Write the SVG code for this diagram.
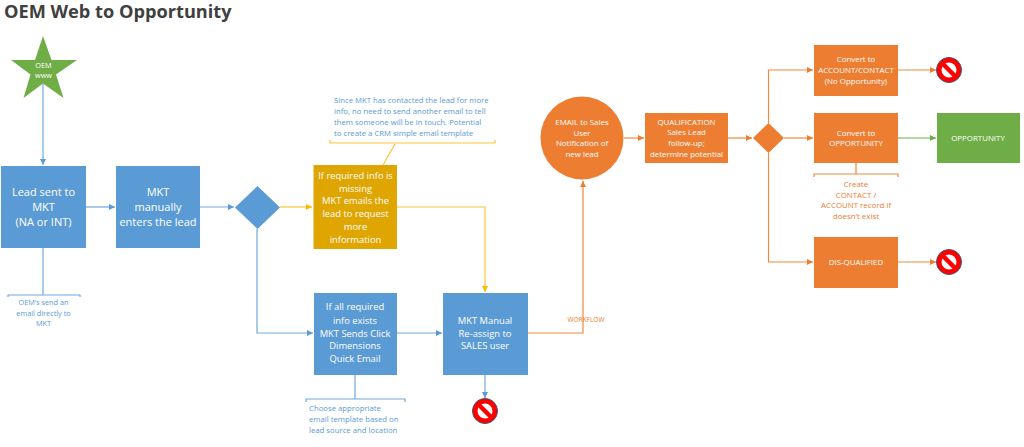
<svg xmlns="http://www.w3.org/2000/svg" width="1024" height="447" viewBox="0 0 1024 447">
<style>
text{font-family:"Open Sans","Liberation Sans",sans-serif;text-anchor:middle}
.t{fill:#fff}
.s13{font-size:11px}.s10{font-size:9.4px}.s8{font-size:7.3px}.s7{font-size:7.75px}.s9{font-size:7.9px}
.st{text-anchor:start}
.l{fill:none;stroke-width:1.2}
.bl{stroke:#6fa8e0}.or{stroke:#f0893f}.ye{stroke:#fcc63a}.gr{stroke:#70ad47}
.blue{fill:#5b9bd5}.orange{fill:#ed7d31}.gold{fill:#dfa500}.green{fill:#6fad47}
</style>
<defs>
<marker id="ab" markerWidth="7" markerHeight="6" refX="6" refY="3" orient="auto" markerUnits="userSpaceOnUse"><path d="M0 0L6 3L0 6z" fill="#5b9bd5"/></marker>
<marker id="ao" markerWidth="7" markerHeight="6" refX="6" refY="3" orient="auto" markerUnits="userSpaceOnUse"><path d="M0 0L6 3L0 6z" fill="#ed7d31"/></marker>
<marker id="ay" markerWidth="7" markerHeight="6" refX="6" refY="3" orient="auto" markerUnits="userSpaceOnUse"><path d="M0 0L6 3L0 6z" fill="#fcb900"/></marker>
<marker id="ag" markerWidth="7" markerHeight="6" refX="6" refY="3" orient="auto" markerUnits="userSpaceOnUse"><path d="M0 0L6 3L0 6z" fill="#70ad47"/></marker>
<g id="no-sym"><circle r="12.5" fill="#f00" stroke="#44546a" stroke-width="1"/><circle r="7.5" fill="#fff"/><path d="M-6.5-6.5L6.5 6.5" stroke="#f00" stroke-width="4.5"/></g>
</defs>
<text class="st" x="4" y="18" style="font-size:18.2px;font-weight:700" fill="#404040">OEM Web to Opportunity</text>
<g id="connectors">
<path class="l bl" marker-end="url(#ab)" d="M43 84V165"/>
<path class="l bl" marker-end="url(#ab)" d="M86 207H115"/>
<path class="l bl" marker-end="url(#ab)" d="M200 207H234"/>
<path class="l ye" marker-end="url(#ay)" d="M280 207H312"/>
<path class="l ye" marker-end="url(#ay)" d="M397 207H485V292"/>
<path class="l bl" marker-end="url(#ab)" d="M257 229V333H313"/>
<path class="l bl" marker-end="url(#ab)" d="M397 333H442"/>
<path class="l bl" marker-end="url(#ab)" d="M485 375V398"/>
<path class="l or" marker-end="url(#ao)" d="M528 333H583V181"/>
<path class="l or" marker-end="url(#ao)" d="M624 138H644"/>
<path class="l or" marker-end="url(#ao)" d="M728 138H752"/>
<path class="l or" marker-end="url(#ao)" d="M768.500 123V70H813"/>
<path class="l or" marker-end="url(#ao)" d="M784 138H813"/>
<path class="l or" marker-end="url(#ao)" d="M768.500 153V262H813"/>
<path class="l or" marker-end="url(#ao)" d="M898 70H936"/>
<path class="l gr" marker-end="url(#ag)" d="M898 138H936"/>
<path class="l or" marker-end="url(#ao)" d="M898 262H936"/>
<path class="l bl" d="M43 248V295M8 297V295H80V297"/>
<path class="l bl" d="M355 375V399M306 402V399H405V402"/>
<path class="l ye" d="M383 165L395 144M330 140V143H495V140"/>
<path class="l or" d="M856 163V174M814 177V174H898V177"/>
</g>
<g id="star"><path class="green" d="M43 36L51.500 60H77L56 74.500L63.500 98L43 83.500L23.500 98L30.500 74.500L11 60H35z"/><text class="t s8" x="43.500" y="68">OEM</text><text class="t s8" x="43.500" y="78">www</text></g>
<g id="lead"><rect class="blue" x="1" y="166" width="85" height="82"/><text class="t s13" x="43.500" y="196">Lead sent to</text><text class="t s13" x="43.500" y="211">MKT</text><text class="t s13" x="43.500" y="226">(NA or INT)</text></g>
<g id="manual"><rect class="blue" x="116" y="166" width="84" height="82"/><text class="t s13" x="158" y="196">MKT</text><text class="t s13" x="158" y="211">manually</text><text class="t s13" x="158" y="226">enters the lead</text></g>
<g id="decision1"><path class="blue" d="M257.500 186L280 207.500L257.500 229L235 207.500z"/></g>
<g id="missing"><rect class="gold" x="313.500" y="165" width="83.500" height="84"/><text class="t s10" x="355.500" y="179">If required info is</text><text class="t s10" x="355.500" y="191.500">missing</text><text class="t s10" x="355.500" y="204">MKT emails the</text><text class="t s10" x="355.500" y="216.500">lead to request</text><text class="t s10" x="355.500" y="230">more</text><text class="t s10" x="355.500" y="243">information</text></g>
<g id="exists"><rect class="blue" x="314" y="293" width="83" height="82"/><text class="t s10" x="355" y="310">If all required</text><text class="t s10" x="355" y="324">info exists</text><text class="t s10" x="355" y="337">MKT Sends Click</text><text class="t s10" x="355" y="349">Dimensions</text><text class="t s10" x="355" y="362">Quick Email</text></g>
<g id="reassign"><rect class="blue" x="443" y="293" width="85" height="82"/><text class="t s10" x="485" y="324">MKT Manual</text><text class="t s10" x="485" y="337">Re-assign to</text><text class="t s10" x="485" y="349">SALES user</text></g>
<g id="no1"><use href="#no-sym" x="485" y="411"/></g>
<g id="email"><circle class="orange" cx="582" cy="138" r="41.500"/><text class="t s9" x="582" y="125">EMAIL to Sales</text><text class="t s9" x="582" y="136">User</text><text class="t s9" x="582" y="146">Notification of</text><text class="t s9" x="582" y="157">new lead</text></g>
<g id="qualification"><rect class="orange" x="645" y="113" width="83" height="50"/><text class="t s9" x="686.500" y="125">QUALIFICATION</text><text class="t s9" x="686.500" y="135">Sales Lead</text><text class="t s9" x="686.500" y="146">follow-up;</text><text class="t s9" x="686.500" y="157">determine potential</text></g>
<g id="decision2"><path class="orange" d="M768.500 123L784 138L768.500 153L753 138z"/></g>
<g id="convert-account"><rect class="orange" x="814" y="45" width="84" height="51"/><text class="t s9" x="856" y="62">Convert to</text><text class="t s9" x="856" y="73">ACCOUNT/CONTACT</text><text class="t s9" x="856" y="84">(No Opportunity)</text></g>
<g id="convert-opp"><rect class="orange" x="814" y="113" width="84" height="50"/><text class="t s9" x="856" y="136">Convert to</text><text class="t s9" x="856" y="146">OPPORTUNITY</text></g>
<g id="disq"><rect class="orange" x="814" y="237" width="84" height="51"/><text class="t s9" x="856" y="265">DIS-QUALIFIED</text></g>
<g id="opp"><rect class="green" x="937" y="113" width="83" height="50"/><text class="t s9" x="978" y="141">OPPORTUNITY</text></g>
<g id="no2"><use href="#no-sym" x="949" y="70"/></g>
<g id="no3"><use href="#no-sym" x="949" y="262"/></g>
<g id="notes">
<g fill="#5b9bd5"><text class="s8" x="43.500" y="305">OEM’s send an</text><text class="s8" x="43.500" y="316">email directly to</text><text class="s8" x="43.500" y="326">MKT</text></g>
<g fill="#5b9bd5"><text class="st s7" x="334" y="103">Since MKT has contacted the lead for more</text><text class="st s7" x="334" y="114">info, no  need to send another email  to tell</text><text class="st s7" x="334" y="125">them someone will be in touch. Potential</text><text class="st s7" x="334" y="136">to create a CRM simple email template</text>
<text class="st s7" x="309" y="411">Choose appropriate</text><text class="st s7" x="309" y="422">email template based on</text><text class="st s7" x="309" y="433">lead source and location</text></g>
<text x="586" y="322" style="font-size:6.500px" fill="#ed7d31">WORKFLOW</text>
<g fill="#ed7d31"><text class="s9" x="856" y="187">Create</text><text class="s9" x="856" y="198">CONTACT /</text><text class="s9" x="856" y="208">ACCOUNT record if</text><text class="s9" x="856" y="219">doesn’t exist</text></g>
</g>
</svg>
